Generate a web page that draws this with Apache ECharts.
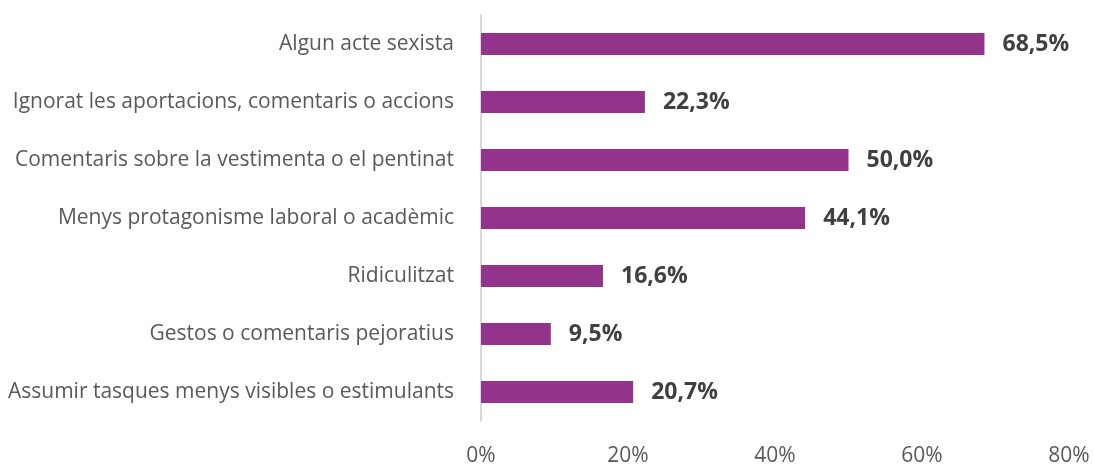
<!DOCTYPE html>
<html>
<head>
<meta charset="utf-8">
<script src="https://cdn.jsdelivr.net/npm/echarts@6/dist/echarts.min.js"></script>
<style>
  html, body { margin: 0; padding: 0; background: #fff; }
  #chart { width: 1094px; height: 467px; }
</style>
</head>
<body>
<div id="chart"></div>
<script>
// categories, top to bottom
const categories = [
    'Algun acte sexista',
    'Ignorat les aportacions, comentaris o accions',
    'Comentaris sobre la vestimenta o el pentinat',
    'Menys protagonisme laboral o acadèmic',
    'Ridiculitzat',
    'Gestos o comentaris pejoratius',
    'Assumir tasques menys visibles o estimulants'
];
const values = [68.5, 22.3, 50.0, 44.1, 16.6, 9.5, 20.7];
const tickValues = [0, 20, 40, 60, 80];

const chart = echarts.init(document.getElementById('chart'));

chart.setOption({
    animation: false,
    textStyle: { fontFamily: '"Open Sans", sans-serif' },
    grid: { left: 481, right: 25, top: 15, bottom: 42, containLabel: false },
    xAxis: {
        type: 'value',
        min: tickValues[0],
        max: tickValues[tickValues.length - 1],
        interval: 20,
        axisLine: { show: false },
        axisTick: { show: false },
        splitLine: { show: false },
        axisLabel: {
            formatter: v => v + '%',
            color: '#595959',
            fontSize: 21,
            margin: 25
        }
    },
    yAxis: {
        type: 'category',
        data: categories,
        inverse: true,
        axisLine: { show: true, lineStyle: { color: '#d9d9d9', width: 2 } },
        axisTick: { show: false },
        axisLabel: {
            color: '#595959',
            fontSize: 21,
            margin: 27
        }
    },
    series: [{
        type: 'bar',
        data: values,
        barWidth: 22,
        itemStyle: { color: '#93338c' },
        label: {
            show: true,
            position: 'right',
            distance: 18,
            color: '#404040',
            fontSize: 23,
            fontWeight: 'bold',
            formatter: p => p.value.toFixed(1).replace('.', ',') + '%'
        }
    }]
});
</script>
</body>
</html>
